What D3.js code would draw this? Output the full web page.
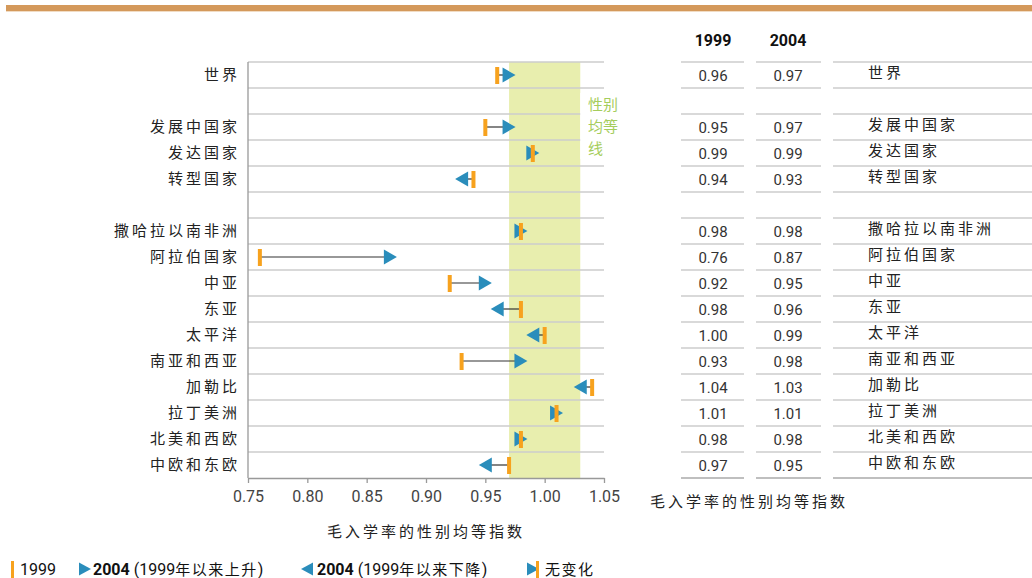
<!DOCTYPE html>
<html>
<head>
<meta charset="utf-8">
<script src="https://cdn.jsdelivr.net/npm/d3@7"></script>
<style>
  body { margin: 0; background: #fff; }
  svg { display: block; }
  .num { font-family: "Liberation Sans Narrow", "Roboto", sans-serif; }
  .cjk { font-family: "Noto Sans CJK SC", sans-serif; }
</style>
</head>
<body>
<svg id="chart" width="1032" height="578"></svg>
<script>
// Data
const regions = ['世界', '发展中国家', '发达国家', '转型国家', '撒哈拉以南非洲', '阿拉伯国家',
  '中亚', '东亚', '太平洋', '南亚和西亚', '加勒比', '拉丁美洲', '北美和西欧', '中欧和东欧'];
const v1999 = [0.96, 0.95, 0.99, 0.94, 0.98, 0.76, 0.92, 0.98, 1.00, 0.93, 1.04, 1.01, 0.98, 0.97];
const v2004 = [0.97, 0.97, 0.99, 0.93, 0.98, 0.87, 0.95, 0.96, 0.99, 0.98, 1.03, 1.01, 0.98, 0.95];
const spacerAfter = ['世界', '转型国家'];
const xTicks = [0.75, 0.80, 0.85, 0.90, 0.95, 1.00, 1.05];
const parityBand = [0.97, 1.03];
const years = ['1999', '2004'];

const ORANGE = '#f7a21e', BLUE = '#2a8dbb', GRID = '#cccccc';

const svg = d3.select('#chart');

// rows incl. spacer rows
const rows = [];
regions.forEach((r, i) => {
  rows.push({key: r, i: i});
  if (spacerAfter.includes(r)) rows.push({key: '_gap' + i, i: null});
});

const x = d3.scaleLinear().domain([0.75, 1.05]).range([248, 604]);
const y = d3.scaleBand().domain(rows.map(d => d.key)).range([62, 478]).padding(0);
const yc = k => y(k) + y.bandwidth() / 2;

// triangle centred on its bounding box, pointing right (dir=1) or left (dir=-1)
const triPath = (w, h) => dir => `M${-dir * w / 2},${-h / 2}L${dir * w / 2},0L${-dir * w / 2},${h / 2}Z`;
const bigTri = triPath(13, 15), smallTri = triPath(12, 13);

// top decorative bar
svg.append('rect').attr('x', 6).attr('y', 5).attr('width', 1026).attr('height', 6).attr('fill', '#d4995b');
svg.append('rect').attr('x', 6).attr('y', 11).attr('width', 1026).attr('height', 1).attr('fill', '#f1dcc4');

// parity band
svg.append('rect')
  .attr('x', x(parityBand[0])).attr('y', 62)
  .attr('width', x(parityBand[1]) - x(parityBand[0])).attr('height', 478 - 62)
  .attr('fill', '#e8eeae');

// gridlines (row boundaries)
const bounds = rows.map(d => y(d.key)).concat([478]);
svg.append('g').selectAll('line').data(bounds.slice(0, -1)).join('line')
  .attr('x1', 248).attr('x2', 604)
  .attr('y1', d => d).attr('y2', d => d)
  .attr('stroke', GRID).attr('stroke-width', 1.3);

// white box behind parity label
svg.append('rect').attr('x', x(parityBand[1])).attr('y', 93).attr('width', 26).attr('height', 66).attr('fill', '#fff');
svg.append('g').selectAll('text').data(['性别', '均等', '线']).join('text')
  .attr('class', 'cjk').attr('fill', '#a5cd5c').style('font-size', '15px')
  .attr('x', 588).attr('y', (d, i) => 110 + i * 22).text(d => d);

// x axis
const xAxis = svg.append('g').attr('transform', 'translate(0,478)')
  .call(d3.axisBottom(x).tickValues(xTicks).tickFormat(d3.format('.2f')).tickSize(5).tickSizeOuter(0));
xAxis.select('.domain').attr('stroke', '#999').attr('stroke-width', 1.3);
xAxis.selectAll('.tick line').attr('stroke', '#999').attr('stroke-width', 1.3);
xAxis.selectAll('.tick text').attr('class', 'num').attr('fill', '#444')
  .style('font-size', '16px').attr('dy', '1em');

// y axis line
svg.append('line').attr('x1', 248).attr('x2', 248).attr('y1', 62).attr('y2', 478)
  .attr('stroke', '#999').attr('stroke-width', 1.3);

// region labels
svg.append('g').selectAll('text').data(rows.filter(d => d.i !== null)).join('text')
  .attr('class', 'cjk')
  .attr('x', 240).attr('y', d => yc(d.key)).attr('dy', '0.35em')
  .attr('text-anchor', 'end').attr('fill', '#222')
  .style('font-size', '15px').style('letter-spacing', '3px')
  .text(d => d.key);

// axis title
svg.append('text').attr('class', 'cjk').attr('x', 426).attr('y', 537)
  .attr('text-anchor', 'middle').attr('fill', '#222').style('font-size', '15px').style('letter-spacing', '3px')
  .text('毛入学率的性别均等指数');

// markers
const data = rows.filter(d => d.i !== null).map(d => ({key: d.key, a: v1999[d.i], b: v2004[d.i]}));
const marks = svg.append('g').selectAll('g').data(data).join('g')
  .attr('transform', d => `translate(0,${yc(d.key)})`);

marks.filter(d => d.a !== d.b).append('line')
  .attr('x1', d => x(d.a)).attr('x2', d => x(d.b))
  .attr('y1', 0).attr('y2', 0).attr('stroke', '#333').attr('stroke-width', 1.2);

marks.append('path')
  .attr('d', d => bigTri(d.b >= d.a ? 1 : -1))
  .attr('fill', BLUE)
  .attr('transform', d => `translate(${x(d.b)},0)`);

marks.append('rect')
  .attr('x', d => x(d.a) - 2).attr('y', -8).attr('width', 4).attr('height', 17)
  .attr('fill', ORANGE);

// table
const cols = [
  {x1: 681, x2: 744, cx: 713, vals: v1999},
  {x1: 756, x2: 821, cx: 788, vals: v2004}
];
const tbl = svg.append('g');
tbl.selectAll('text.hdr').data(years).join('text')
  .attr('class', 'num').attr('x', (d, i) => cols[i].cx).attr('y', 46)
  .attr('text-anchor', 'middle').attr('fill', '#111')
  .style('font-size', '16px').style('font-weight', 'bold').text(d => d);

[[681, 744], [756, 821], [833, 1032]].forEach(([a, b]) => {
  tbl.append('g').selectAll('line').data(bounds).join('line')
    .attr('x1', a).attr('x2', b).attr('y1', d => d).attr('y2', d => d)
    .attr('stroke', (d, i) => i === bounds.length - 1 ? '#aaa' : GRID).attr('stroke-width', 1.3);
});

cols.forEach(c => {
  tbl.append('g').selectAll('text').data(data).join('text')
    .attr('class', 'num').attr('x', c.cx).attr('y', d => yc(d.key) + 1).attr('dy', '0.35em')
    .attr('text-anchor', 'middle').attr('fill', '#333').style('font-size', '15px')
    .text(d => d3.format('.2f')(c.vals[regions.indexOf(d.key)]));
});

tbl.append('g').selectAll('text').data(data).join('text')
  .attr('class', 'cjk').attr('x', 868).attr('y', d => yc(d.key) - 2).attr('dy', '0.35em')
  .attr('fill', '#222').style('font-size', '15px').style('letter-spacing', '3px')
  .text(d => d.key);

svg.append('text').attr('class', 'cjk').attr('x', 650).attr('y', 507)
  .attr('fill', '#222').style('font-size', '15px').style('letter-spacing', '3px')
  .text('毛入学率的性别均等指数');

// legend
const lg = svg.append('g').attr('transform', 'translate(0,569)');
lg.append('rect').attr('x', 11).attr('y', -8).attr('width', 3).attr('height', 17).attr('fill', ORANGE);
lg.append('path').attr('d', smallTri(1)).attr('fill', BLUE).attr('transform', 'translate(85,0)');
lg.append('path').attr('d', smallTri(-1)).attr('fill', BLUE).attr('transform', 'translate(307,0)');
lg.append('path').attr('d', smallTri(1)).attr('fill', BLUE).attr('transform', 'translate(533,0)');
lg.append('rect').attr('x', 536).attr('y', -8).attr('width', 3).attr('height', 17).attr('fill', ORANGE);

const legItems = [
  {x: 20, num: '1999', cjk: ''},
  {x: 93, num: '2004 (1999', cjk: '年以来上升', tail: ')'},
  {x: 317, num: '2004 (1999', cjk: '年以来下降', tail: ')'},
  {x: 545, num: '', cjk: '无变化'}
];
legItems.forEach(it => {
  const t = lg.append('text').attr('x', it.x).attr('dy', '0.35em').attr('fill', '#111').style('font-size', '16px');
  if (it.num) {
    const n = it.num.split(' ');
    t.append('tspan').attr('class', 'num').style('font-weight', n[1] ? 'bold' : 'normal').text(n[0]);
    if (n[1]) t.append('tspan').attr('class', 'num').text(' ' + n[1]);
  }
  if (it.cjk) t.append('tspan').attr('class', 'cjk').style('font-size', '15px').style('letter-spacing', '1.5px').text(it.cjk);
  if (it.tail) t.append('tspan').attr('class', 'num').text(it.tail);
});
</script>
</body>
</html>
